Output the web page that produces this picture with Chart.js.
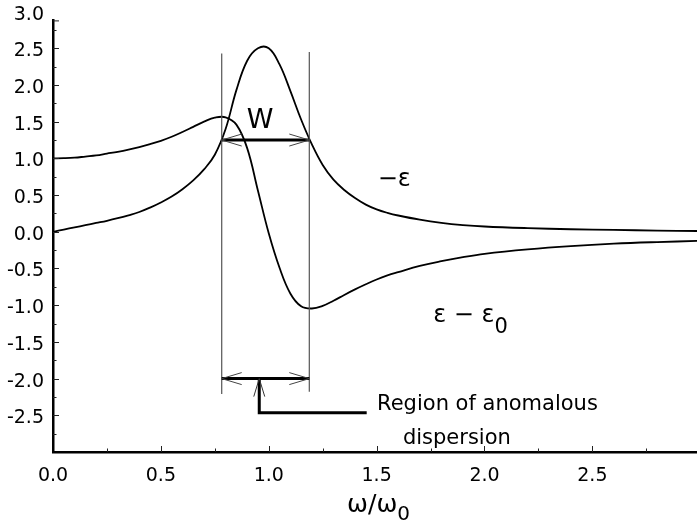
<!DOCTYPE html>
<html>
<head>
<meta charset="utf-8">
<script src="https://cdn.jsdelivr.net/npm/chart.js@4.4.0/dist/chart.umd.min.js"></script>
<style>
  html, body { margin: 0; padding: 0; background: #fff; }
</style>
</head>
<body>
<canvas id="chart" width="697" height="526"></canvas>
<script>
// frequency axis (omega / omega_0)
var omega = [0, 0.05, 0.1, 0.15, 0.2, 0.25, 0.3, 0.35, 0.4, 0.45, 0.5, 0.55, 0.6, 0.65, 0.7, 0.75, 0.8,
  0.85, 0.9, 0.95, 1.0, 1.05, 1.1, 1.15, 1.2, 1.25, 1.3, 1.35, 1.4, 1.45, 1.5, 1.55, 1.6,
  1.7, 1.8, 1.9, 2.0, 2.2, 2.4, 2.6, 2.8, 2.985];

// the peaked curve, labelled -eps
var minusEps = [0.00, 0.03, 0.06, 0.09, 0.12, 0.15, 0.185, 0.225, 0.27, 0.33, 0.40, 0.48, 0.58, 0.70, 0.85, 1.05, 1.40,
  1.93, 2.33, 2.50, 2.50, 2.28, 1.92, 1.53, 1.19, 0.91, 0.71, 0.57, 0.46, 0.37, 0.305, 0.258, 0.222,
  0.165, 0.122, 0.092, 0.072, 0.05, 0.035, 0.025, 0.017, 0.011];

// the dispersive curve, labelled eps - eps0
var epsMinusEps0 = [1.00, 1.003, 1.01, 1.025, 1.04, 1.065, 1.09, 1.12, 1.155, 1.195, 1.24, 1.295, 1.36, 1.43, 1.50, 1.555, 1.56,
  1.46, 1.14, 0.56, -0.02, -0.49, -0.84, -1.015, -1.045, -1.01, -0.94, -0.86, -0.785, -0.715, -0.65, -0.595, -0.55,
  -0.465, -0.40, -0.345, -0.30, -0.24, -0.195, -0.162, -0.14, -0.125];

// labelled ticks
var xMajor = [0, 0.5, 1.0, 1.5, 2.0, 2.5];
var yMajor = [-2.5, -2.0, -1.5, -1.0, -0.5, 0, 0.5, 1.0, 1.5, 2.0, 2.5, 3.0];

// width of the band (where -eps is at half height) and the arrow levels
var bandEdges = [0.782, 1.188];
var halfHeight = 1.25;
var markLevel = -2.0;

var FONT = '"DejaVu Sans", sans-serif';

function withMinors(majors, lo, hi) {
  var out = [];
  for (var i = 0; i < majors.length; i++) {
    var v = majors[i];
    if (v - 0.25 >= lo - 1e-9) out.push(v - 0.25);
    out.push(v);
    if (v + 0.25 <= hi + 1e-9) out.push(v + 0.25);
  }
  out = out.filter(function (v, i) { return out.indexOf(v) === i; });
  out.sort(function (a, b) { return a - b; });
  return out.map(function (v) { return { value: v }; });
}

function isMajor(v) {
  return Math.abs(v * 2 - Math.round(v * 2)) < 1e-6;
}

function openHead(ctx, tx, ty, dx, dy, len, half) {
  // (dx, dy) points from the tip back along the shaft
  var px = -dy, py = dx;
  ctx.beginPath();
  ctx.moveTo(tx + dx * len + px * half, ty + dy * len + py * half);
  ctx.lineTo(tx, ty);
  ctx.lineTo(tx + dx * len - px * half, ty + dy * len - py * half);
  ctx.stroke();
}

function doubleArrow(ctx, x1, x2, y) {
  ctx.strokeStyle = '#000';
  ctx.lineWidth = 3;
  ctx.beginPath();
  ctx.moveTo(x1, y);
  ctx.lineTo(x2, y);
  ctx.stroke();
  ctx.strokeStyle = '#444';
  ctx.lineWidth = 1;
  openHead(ctx, x1, y, 1, 0, 20, 6);
  openHead(ctx, x2, y, -1, 0, 20, 6);
}

// inward tick marks on both axes, plus the x axis title
var innerTicks = {
  id: 'innerTicks',
  afterDraw: function (chart) {
    var ctx = chart.ctx, xs = chart.scales.x, ys = chart.scales.y;
    var area = chart.chartArea;
    ctx.save();
    ctx.strokeStyle = '#222';
    ctx.lineWidth = 1;
    ys.ticks.forEach(function (t) {
      if (t.value > ys.max + 1e-9 || t.value < ys.min - 1e-9) return;
      var py = Math.round(ys.getPixelForValue(t.value)) + 0.5;
      var len = isMajor(t.value) ? 6 : 3.5;
      ctx.beginPath();
      ctx.moveTo(area.left, py);
      ctx.lineTo(area.left + len, py);
      ctx.stroke();
    });
    xs.ticks.forEach(function (t) {
      if (t.value > xs.max + 1e-9 || t.value <= xs.min) return;
      var px = Math.round(xs.getPixelForValue(t.value)) + 0.5;
      var len = isMajor(t.value) ? 6 : 3.5;
      ctx.beginPath();
      ctx.moveTo(px, area.bottom);
      ctx.lineTo(px, area.bottom - len);
      ctx.stroke();
    });
    // end cap at the top of the y axis
    ctx.beginPath();
    ctx.moveTo(area.left, area.top + 0.5);
    ctx.lineTo(area.left + 6, area.top + 0.5);
    ctx.stroke();

    // x axis title with subscript
    var tx = xs.getPixelForValue(1.363), tb = area.bottom + 60;
    ctx.fillStyle = '#000';
    ctx.textBaseline = 'alphabetic';
    ctx.textAlign = 'left';
    ctx.font = '25px ' + FONT;
    ctx.fillText('ω/ω', tx, tb);
    var w = ctx.measureText('ω/ω').width;
    ctx.font = '20px ' + FONT;
    ctx.fillText('0', tx + w, tb + 8);
    ctx.restore();
  }
};

// band edges, arrows and labels
var notes = {
  id: 'notes',
  afterDatasetsDraw: function (chart) {
    var ctx = chart.ctx, xs = chart.scales.x, ys = chart.scales.y;
    var X = function (v) { return xs.getPixelForValue(v); };
    var Y = function (v) { return ys.getPixelForValue(v); };
    var xl = X(bandEdges[0]), xr = X(bandEdges[1]);
    ctx.save();

    ctx.strokeStyle = '#555';
    ctx.lineWidth = 1.2;
    ctx.beginPath();
    ctx.moveTo(xl, Y(2.43));
    ctx.lineTo(xl, Y(-2.21));
    ctx.moveTo(xr, Y(2.45));
    ctx.lineTo(xr, Y(-2.18));
    ctx.stroke();

    doubleArrow(ctx, xl, xr, Y(halfHeight));
    doubleArrow(ctx, xl, xr, Y(markLevel));

    // pointer from the lower arrow to the caption
    var px = X(0.956), py0 = Y(markLevel), py1 = Y(-2.465), pxEnd = X(1.454);
    ctx.strokeStyle = '#000';
    ctx.lineWidth = 3;
    ctx.beginPath();
    ctx.moveTo(px, py0 + 1);
    ctx.lineTo(px, py1);
    ctx.lineTo(pxEnd, py1);
    ctx.stroke();
    ctx.strokeStyle = '#333';
    ctx.lineWidth = 1;
    openHead(ctx, px, py0, 0, 1, 18, 5.5);

    ctx.fillStyle = '#000';
    ctx.textBaseline = 'alphabetic';
    ctx.textAlign = 'center';
    ctx.font = '27px ' + FONT;
    ctx.fillText('W', X(0.96), Y(1.42));

    ctx.textAlign = 'left';
    ctx.font = '24px ' + FONT;
    ctx.fillText('\u2212\u03b5', X(1.505), Y(0.62));

    var ex = X(1.762), eb = Y(-1.225);
    ctx.fillText('\u03b5 \u2212 \u03b5', ex, eb);
    var ew = ctx.measureText('\u03b5 \u2212 \u03b5').width;
    ctx.font = '21px ' + FONT;
    ctx.fillText('0', ex + ew, eb + 11);

    ctx.font = '21px ' + FONT;
    ctx.fillText('Region of anomalous', X(1.502), Y(-2.43));
    ctx.fillText('dispersion', X(1.622), Y(-2.89));
    ctx.restore();
  }
};

var ctx = document.getElementById('chart').getContext('2d');
var myChart = new Chart(ctx, {
  type: 'line',
  data: {
    labels: omega,
    datasets: [{
      label: '-eps',
      data: omega.map(function (w, i) { return { x: w, y: minusEps[i] }; }),
      borderColor: '#000',
      borderWidth: 1.8,
      pointRadius: 0,
      tension: 0.4,
      fill: false
    }, {
      label: 'eps - eps0',
      data: omega.map(function (w, i) { return { x: w, y: epsMinusEps0[i] }; }),
      borderColor: '#000',
      borderWidth: 1.8,
      pointRadius: 0,
      tension: 0.4,
      fill: false
    }]
  },
  options: {
    responsive: false,
    animation: false,
    layout: { padding: { top: 16, right: 0, bottom: 0, left: 0 } },
    plugins: {
      legend: { display: false },
      tooltip: { enabled: false }
    },
    scales: {
      x: {
        type: 'linear',
        min: 0,
        max: 2.985,
        afterBuildTicks: function (scale) { scale.ticks = withMinors(xMajor, 0, 2.75); },
        afterFit: function (scale) { scale.height = 74; },
        grid: { display: true, drawOnChartArea: false, drawTicks: false },
        border: { display: true, color: '#000', width: 2.5 },
        ticks: {
          autoSkip: false,
          maxRotation: 0,
          padding: 13,
          color: '#000',
          font: { family: FONT, size: 19 },
          callback: function (v) { return isMajor(v) ? v.toFixed(1) : ''; }
        }
      },
      y: {
        min: -3.0,
        max: 2.88,
        afterBuildTicks: function (scale) { scale.ticks = withMinors(yMajor, -2.75, 2.75); },
        afterFit: function (scale) { scale.width = 53; },
        grid: { display: true, drawOnChartArea: false, drawTicks: false },
        border: { display: true, color: '#000', width: 2.5 },
        ticks: {
          autoSkip: false,
          padding: 9,
          labelOffset: 3,
          color: '#000',
          font: { family: FONT, size: 19 },
          callback: function (v) { return isMajor(v) ? v.toFixed(1) : ''; }
        }
      }
    }
  },
  plugins: [innerTicks, notes]
});
</script>
</body>
</html>
